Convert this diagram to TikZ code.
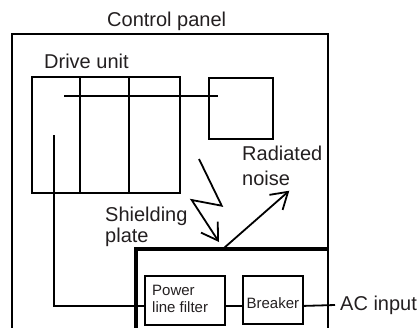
\documentclass[tikz,border=0pt]{standalone}
\usepackage{fontspec}
\setmainfont{Liberation Sans}
\usetikzlibrary{arrows.meta}
\definecolor{ink}{RGB}{35,31,32}
\begin{document}
\begin{tikzpicture}[x=1pt,y=-1pt,
  ln/.style={line width=1.8pt},
  box/.style={draw,line width=1.8pt,anchor=north west,inner sep=0pt,minimum width=#1},
  lbl/.style={anchor=base west,inner sep=0pt,text=ink,font=\fontsize{20}{24}\selectfont},
  slbl/.style={anchor=base west,inner sep=0pt,text=ink,font=\fontsize{15}{18}\selectfont},
  arr/.style={line width=1.8pt,-{Straight Barb[length=16pt,width=20pt]}},
  shield/.style={line width=4pt}]
\useasboundingbox (0,0) rectangle (419,327);
% control panel
\coordinate (p1) at (12.3,330);
\coordinate (p2) at (12.3,34.3);
\coordinate (p3) at (327.7,34.3);
\coordinate (p4) at (327.7,330);
\draw[ln] (p1) -- (p2) -- (p3) -- (p4);
\node[lbl] (cp) at (107,26.7) {Control panel};
% drive unit
\node[lbl] (dutxt) at (44,68.3) {Drive unit};
\node[box=148pt,minimum height=115.4pt] (drive) at (31,76.3) {};
\coordinate (d1t) at (80,76.3); \coordinate (d1b) at (80,191.7);
\coordinate (d2t) at (129.3,76.3); \coordinate (d2b) at (129.3,191.7);
\draw[ln] (d1t) -- (d1b) (d2t) -- (d2b);
\node[box=64.6pt,minimum height=61.6pt] (sq) at (207.7,76.7) {};
\coordinate (h1) at (64,95.7); \coordinate (h2) at (218,95.7);
\draw[ln] (h1) -- (h2);
% shielding plate
\coordinate (s1) at (136,330);
\coordinate (s2) at (136,249.3);
\coordinate (s3) at (327.7,249.3);
\draw[shield] (s1) -- (s2) -- (s3);
% filter and breaker
\node[box=80pt,minimum height=49pt] (filt) at (144.3,275) {};
\node[slbl] (pw) at (152,295) {Power};
\node[slbl] (lf) at (152,312.7) {line filter};
\node[box=60.6pt,minimum height=48pt] (brk) at (241.7,275) {};
\node[slbl] at (brk.center) [anchor=center,yshift=-3pt] (brktxt) {Breaker};
\coordinate (w1) at (54,135);
\draw[ln] (w1) |- ([yshift=-5.5pt]filt.west);
\draw[ln] ([yshift=-5.5pt]filt.east) -- ([yshift=-6pt]brk.west);
\coordinate (acend) at (335,305);
\draw[ln] ([yshift=-6pt]brk.east) -- (acend);
\node[lbl] (ac) at (340,310) {AC input};
% labels
\node[lbl] (rad) at (242,160) {Radiated};
\node[lbl] (noi) at (242,185) {noise};
\node[lbl] (shd) at (105,221.7) {Shielding};
\node[lbl] (plt) at (105,242) {plate};
% arrows
\coordinate (z0) at (199,159);
\coordinate (z1) at (221.7,205.7);
\coordinate (z2) at (191.7,200);
\coordinate (z3) at (219,242);
\draw[arr,line join=miter] (z0) -- (z1) -- (z2) -- (z3);
\coordinate (r0) at (224,248);
\coordinate (r1) at (289.3,190.7);
\draw[arr] (r0) -- (r1);
\end{tikzpicture}
\end{document}
